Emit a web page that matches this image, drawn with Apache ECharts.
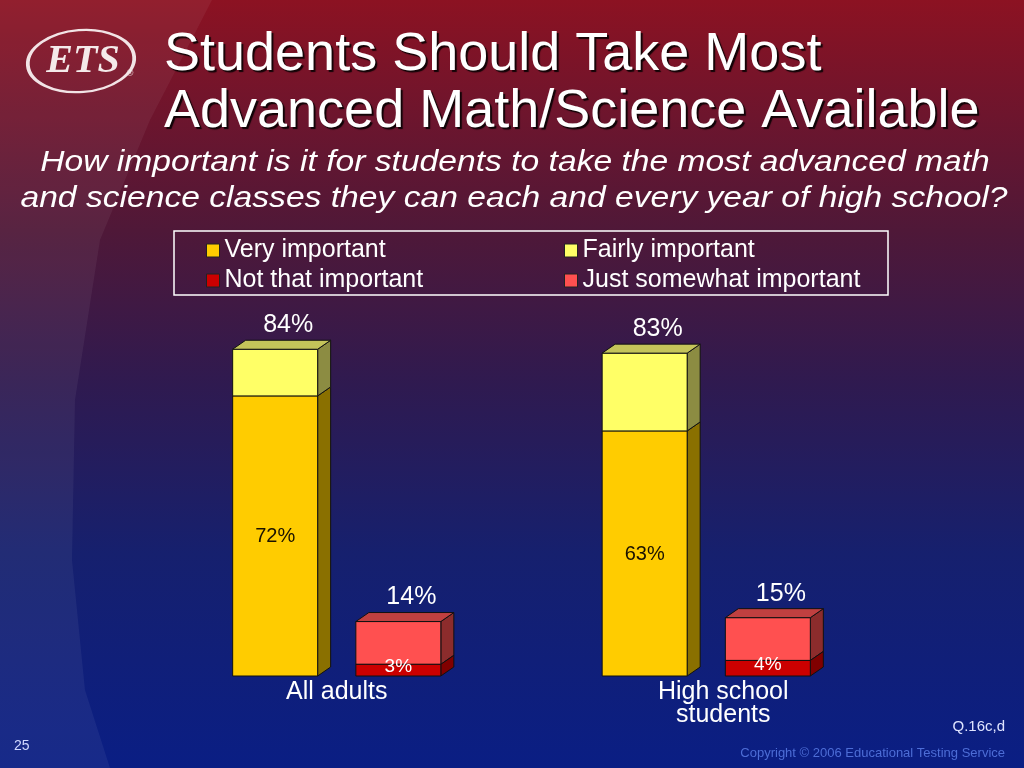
<!DOCTYPE html>
<html>
<head>
<meta charset="utf-8">
<script src="https://cdn.jsdelivr.net/npm/echarts@6/dist/echarts.min.js"></script>
<style>html,body{margin:0;padding:0;}#c{width:1024px;height:768px;}</style>
</head>
<body>
<div id="c"></div>
<script>
// ---- data ----
const categories = ['All adults', 'High school\nstudents'];
const veryImportant = [72, 63];
const fairlyImportant = [12, 20];   // stacked to totals 84 / 83
const notThatImportant = [3, 4];
const justSomewhatImportant = [11, 11]; // stacked to totals 14 / 15
const yTicks = [0, 100];

const chart = echarts.init(document.getElementById('c'));
const DX = 13, DY = 9;
const OFF = 0.1667, BW = 0.23;
const txtFont = '"Liberation Sans", Arial, sans-serif';

function makeSeries(name, baseArr, valArr, side, colors, opts) {
  const data = valArr.map((v, i) => [i, baseArr ? baseArr[i] : 0, v]);
  return {
    type: 'custom', name: name, data: data, z: opts.z || 2,
    itemStyle: { color: colors.front, borderColor: '#1a1a1a', borderWidth: 1 },
    encode: { x: 0, y: [1, 2] },
    renderItem: function (params, api) {
      const ci = api.value(0), base = api.value(1), val = api.value(2);
      const bw = api.size([1, 0])[0];
      const c0 = api.coord([ci, 0]);
      const cx = c0[0] + side * OFF * bw;
      const w = bw * BW;
      const xl = cx - w / 2, xr = cx + w / 2;
      const y0 = api.coord([ci, base])[1];
      const y1 = api.coord([ci, base + val])[1];
      const st = { stroke: '#111', lineWidth: 1 };
      const children = [
        { type: 'polygon', shape: { points: [[xr, y1], [xr + DX, y1 - DY], [xr + DX, y0 - DY], [xr, y0]] },
          style: Object.assign({ fill: colors.side }, st) },
        { type: 'rect', shape: { x: xl, y: y1, width: w, height: y0 - y1 },
          style: Object.assign({ fill: colors.front }, st) }
      ];
      if (opts.top) {
        children.push({ type: 'polygon', shape: { points: [[xl, y1], [xl + DX, y1 - DY], [xr + DX, y1 - DY], [xr, y1]] },
          style: Object.assign({ fill: colors.top }, st) });
      }
      if (opts.inner) {
        children.push({ type: 'text', z2: 10, style: { text: val + '%', x: cx + opts.inner.dx, y: (y0 + y1) / 2 + opts.inner.dy,
          align: 'center', verticalAlign: 'middle', fill: opts.inner.color,
          font: opts.inner.size + 'px ' + txtFont } });
      }
      if (opts.total) {
        const tot = base + val;
        children.push({ type: 'text', style: { text: tot + '%', x: cx + 13, y: y1 - 24,
          align: 'center', verticalAlign: 'middle', fill: '#ffffff',
          font: '25px ' + txtFont } });
      }
      return { type: 'group', children: children };
    }
  };
}

const legendText = { color: '#ffffff', fontSize: 25, fontFamily: txtFont, lineHeight: 25 };

const option = {
  backgroundColor: {
    type: 'linear', x: 0, y: 0, x2: 0, y2: 1,
    colorStops: [
      { offset: 0, color: '#8c1222' },
      { offset: 0.3, color: '#4f1838' },
      { offset: 0.5, color: '#2f1a50' },
      { offset: 0.72, color: '#16206e' },
      { offset: 1, color: '#0a1e84' }
    ]
  },
  animation: false,
  title: [
    { text: 'Students Should Take Most\nAdvanced Math/Science Available', left: 159, top: 22,
      textStyle: { color: '#ffffff', fontSize: 54, fontWeight: 'normal', fontFamily: txtFont, lineHeight: 57,
        textShadowColor: 'rgba(0,0,0,0.85)', textShadowOffsetX: 2, textShadowOffsetY: 2, textShadowBlur: 1 } }
  ],
  legend: [
    { orient: 'vertical', left: 201, top: 233, itemWidth: 13, itemHeight: 13, itemGap: 5, icon: 'rect',
      data: ['Very important', 'Not that important'],
      itemStyle: { borderColor: '#222', borderWidth: 1 },
      textStyle: legendText },
    { orient: 'vertical', left: 559, top: 233, itemWidth: 13, itemHeight: 13, itemGap: 5, icon: 'rect',
      data: ['Fairly important', 'Just somewhat important'],
      itemStyle: { borderColor: '#222', borderWidth: 1 },
      textStyle: legendText }
  ],
  grid: { left: 152, right: 133, top: 287, bottom: 92 },
  xAxis: {
    type: 'category', data: categories,
    axisLine: { show: false }, axisTick: { show: false }, splitLine: { show: false },
    axisLabel: { color: '#ffffff', fontSize: 25, fontFamily: txtFont, lineHeight: 23, margin: 5,
      formatter: function (v, i) {
        return v.split('\n').map(l => (i === 1 ? '{o|' : '{n|') + l + '}').join('\n');
      },
      rich: { n: { fontSize: 25, lineHeight: 23, color: '#fff', fontFamily: txtFont },
              o: { fontSize: 25, lineHeight: 23, color: '#fff', fontFamily: txtFont, padding: [0, 0, 0, 34] } } }
  },
  yAxis: { type: 'value', min: yTicks[0], max: yTicks[1], show: false, splitLine: { show: false } },
  series: [
    makeSeries('Very important', null, veryImportant, -1,
      { front: '#ffcc00', side: '#8a7000', top: '#c8a800' },
      { top: false, inner: { color: '#1a1200', size: 20, dx: 0, dy: 1 } }),
    makeSeries('Fairly important', veryImportant, fairlyImportant, -1,
      { front: '#ffff66', side: '#8c8c42', top: '#c4c45a' },
      { top: true, total: true }),
    makeSeries('Not that important', null, notThatImportant, 1,
      { front: '#cc0000', side: '#800000', top: '#a00000' },
      { top: false, z: 3, inner: { color: '#ffffff', size: 19, dx: 0, dy: -3 } }),
    makeSeries('Just somewhat important', notThatImportant, justSomewhatImportant, 1,
      { front: '#ff5050', side: '#8c2c2c', top: '#c04040' },
      { top: true, total: true })
  ],
  graphic: [
    { type: 'polygon', z: -10, silent: true,
      shape: { points: [[0, 0], [212, 0], [150, 120], [100, 240], [75, 400], [72, 560], [85, 690], [110, 768], [0, 768]] },
      style: { fill: 'rgba(255,255,255,0.055)' } },
    { type: 'text', x: 515, y: 163, scaleX: 1.14, style: { text: 'How important is it for students to take the most advanced math', align: 'center', verticalAlign: 'middle',
      fill: '#ffffff', font: 'italic 29.5px ' + txtFont } },
    { type: 'text', x: 514, y: 199, scaleX: 1.14, style: { text: 'and science classes they can each and every year of high school?', align: 'center', verticalAlign: 'middle',
      fill: '#ffffff', font: 'italic 29.5px ' + txtFont } },
    { type: 'rect', shape: { x: 174, y: 231, width: 714, height: 64 },
      style: { fill: 'none', stroke: '#ffffff', lineWidth: 1.5 } },
    { type: 'circle', x: 81, y: 61, scaleX: 1.72, rotation: 0.08, shape: { cx: 0, cy: 0, r: 31 },
      style: { fill: 'none', stroke: '#f2e4e6', lineWidth: 2.2 } },
    { type: 'text', x: 83, y: 62, style: { text: 'ETS', align: 'center', verticalAlign: 'middle', fill: '#f4eaea',
      font: 'italic bold 40px "Liberation Serif", "DejaVu Serif", serif' } },
    { type: 'text', x: 130, y: 74, style: { text: '®', align: 'center', verticalAlign: 'middle', fill: '#f4eaea',
      font: '9px ' + txtFont } },
    { type: 'text', x: 14, y: 746, style: { text: '25', verticalAlign: 'middle', fill: '#d0d8ff',
      font: '14px ' + txtFont } },
    { type: 'text', x: 1005, y: 727, style: { text: 'Q.16c,d', align: 'right', verticalAlign: 'middle', fill: '#dfe4ff',
      font: '15px ' + txtFont } },
    { type: 'text', x: 1005, y: 753, style: { text: 'Copyright © 2006 Educational Testing Service', align: 'right', verticalAlign: 'middle', fill: '#4d6dd6',
      font: '13px ' + txtFont } }
  ]
};
chart.setOption(option);
</script>
</body>
</html>
